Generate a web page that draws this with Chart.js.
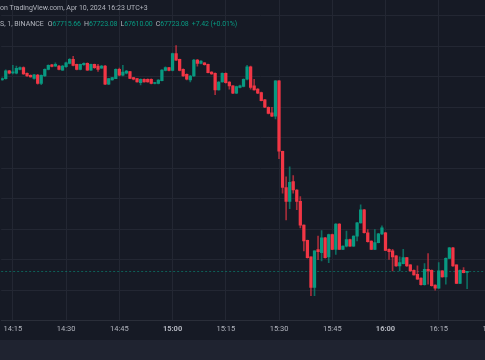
<!DOCTYPE html>
<html><head><meta charset="utf-8">
<script src="https://cdn.jsdelivr.net/npm/chart.js@4.4.1/dist/chart.umd.min.js"></script>
<style>
html,body{margin:0;padding:0;background:#161a25;width:485px;height:360px;overflow:hidden;font-family:Roboto,"Noto Sans",sans-serif;}
#wrap{position:relative;width:485px;height:360px;overflow:hidden;background:#161a25;}
#c{position:absolute;left:0;top:0;}
#band{position:absolute;left:0;top:340px;width:485px;height:20px;background:#1f2330;}
.t{position:absolute;white-space:nowrap;font-size:7px;line-height:9px;color:#b2b5be;}
#ohlc{letter-spacing:-0.12px;}
#ohlc span.seg{margin-right:3.2px;}
.v{color:#089981;}
</style></head>
<body><div id="wrap"><canvas id="c" width="520" height="340"></canvas>
<div id="band"></div>
<div class="t" style="left:0;top:4px;">on TradingView.com, Apr 10, 2024 16:23 UTC+3</div>
<div class="t" id="sym" style="left:0;top:20px;"></div>
<div class="t" id="ohlc" style="left:47.7px;top:20px;"></div>
</div>
<script>
const symbolText = "S, 1, BINANCE";
const times = ["14:12","14:13","14:14","14:15","14:16","14:17","14:18","14:19","14:20","14:21","14:22","14:23","14:24","14:25","14:26","14:27","14:28","14:29","14:30","14:31","14:32","14:33","14:34","14:35","14:36","14:37","14:38","14:39","14:40","14:41","14:42","14:43","14:44","14:45","14:46","14:47","14:48","14:49","14:50","14:51","14:52","14:53","14:54","14:55","14:56","14:57","14:58","14:59",
"15:00","15:01","15:02","15:03","15:04","15:05","15:06","15:07","15:08","15:09","15:10","15:11","15:12","15:13","15:14","15:15","15:16","15:17","15:18","15:19","15:20","15:21","15:22","15:23","15:24","15:25","15:26","15:27","15:28","15:29","15:30","15:31","15:32","15:33","15:34","15:35","15:36","15:37","15:38","15:39","15:40","15:41","15:42","15:43","15:44","15:45","15:46","15:47","15:48","15:49","15:50","15:51","15:52","15:53","15:54","15:55","15:56","15:57","15:58","15:59",
"16:00","16:01","16:02","16:03","16:04","16:05","16:06","16:07","16:08","16:09","16:10","16:11","16:12","16:13","16:14","16:15","16:16","16:17","16:18","16:19","16:20","16:21","16:22","16:23"];
const opens = [68980,68988,69039,69026,69024,69049,69060,69023,69010,68990,69012,68956,69005,69049,69078,69070,69070,69044,69066,69088,69114,69081,69049,69079,69088,69044,69081,69070,69057,69070,68951,68979,68988,69049,69010,69023,69034,68995,68988,68962,68984,68984,68984,68956,68956,68975,69042,69060,
69042,69153,69114,69049,69016,68979,69005,69109,69088,69092,69081,69031,69023,68914,68966,69023,68966,68940,68893,68930,68936,68984,69066,68940,68919,68897,68849,68800,68763,68741,68973,68511,68273,68182,68312,68257,68182,68026,67926,67818,67618,67865,67845,67943,67818,67965,67867,68034,67867,67889,67932,67889,67954,68041,68127,67976,67922,67867,67911,67969,
67976,67867,67857,67824,67759,67774,67813,67765,67730,67704,67678,67635,67737,67730,67633,67613,67726,67687,67808,67878,67765,67644,67730,67715.66];
const highs = [68993,69045,69042,69075,69071,69065,69065,69026,69013,69016,69016,69013,69052,69078,69081,69091,69075,69075,69097,69120,69135,69084,69084,69091,69091,69084,69084,69081,69075,69075,68990,68997,69052,69057,69075,69042,69036,68997,68990,68987,68987,68987,68987,68964,68982,69047,69065,69062,
69156,69205,69117,69052,69019,69010,69114,69114,69107,69094,69084,69034,69026,68969,69026,69026,68969,68943,68939,68945,68987,69075,69070,68984,68922,68899,68852,68802,68800,68975,68975,68513,68344,68409,68351,68260,68214,68028,67928,67819,67858,67954,67990,67946,67967,67967,68037,68037,67891,67987,67935,67956,68044,68160,68130,67997,67924,67997,67972,68021,
67979,67870,67867,67826,67818,67867,67815,67767,67733,67759,67681,67774,67839,67733,67635,67780,67728,67811,67881,67880,67765,67733,67748,67723.08];
const lows = [68977,68984,69019,69019,69019,69045,69016,69003,68997,68984,68951,68948,69003,69045,69065,69068,69045,69042,69062,69084,69071,69045,69045,69075,69042,69042,69055,69036,69055,68948,68948,68977,68987,69006,69006,69019,68987,68980,68964,68947,68964,68964,68953,68953,68953,68973,69039,69039,
69039,69107,69039,69003,68980,68966,69003,69070,69084,69077,69025,69016,68882,68912,68964,68958,68919,68889,68889,68927,68934,68980,68919,68912,68889,68841,68797,68756,68738,68724,68463,68236,68060,68134,68236,68127,68008,67857,67810,67564,67564,67800,67791,67810,67780,67865,67834,67865,67865,67883,67887,67887,67922,68039,67974,67915,67865,67865,67909,67963,
67858,67802,67726,67756,67726,67772,67756,67724,67698,67670,67633,67633,67639,67626,67600,67611,67685,67639,67806,67756,67642,67642,67713,67610.00];
const closes = [68988,69039,69024,69032,69055,69060,69018,69006,68999,69013,68956,69010,69049,69075,69068,69081,69049,69070,69092,69114,69075,69049,69081,69088,69044,69081,69060,69049,69070,68951,68988,68995,69049,69010,69031,69038,68990,68984,68966,68984,68966,68966,68956,68962,68979,69044,69060,69042,
69153,69109,69042,69005,68984,69005,69109,69088,69103,69079,69027,69018,68914,68966,69023,68962,68940,68893,68936,68940,68984,69066,68930,68914,68893,68843,68800,68759,68741,68973,68511,68273,68182,68307,68257,68182,68026,67922,67813,67618,67857,67852,67943,67813,67965,67867,68034,67867,67889,67932,67889,67954,68041,68127,67976,67917,67867,67911,67969,68008,
67860,67852,67818,67759,67780,67813,67759,67726,67700,67672,67635,67737,67726,67629,67613,67726,67687,67808,67878,67759,67644,67730,67715,67723.08];
const tickLabels = ["14:15","14:30","14:45","15:00","15:15","15:30","15:45","16:00","16:15","16:30"];
const changeText = "+7.42 (+0.01%)";

// view window (minutes after 14:00) and price window
const X_MIN = 11.71, X_MAX = 157.9;
const Y_MIN = 67399, Y_MAX = 69504;

const toMin = s => { const p = s.split(':').map(Number); return (p[0]-14)*60 + p[1]; };
const n = closes.length - 1;
const fmt = v => v.toFixed(2);
document.getElementById('sym').textContent = symbolText;
document.getElementById('ohlc').innerHTML =
  '<span class="seg">O<span class="v">' + fmt(opens[n]) + '</span></span>' +
  '<span class="seg">H<span class="v">' + fmt(highs[n]) + '</span></span>' +
  '<span class="seg">L<span class="v">' + fmt(lows[n]) + '</span></span>' +
  '<span class="seg">C<span class="v">' + fmt(closes[n]) + '</span></span>' +
  '<span class="v">' + changeText + '</span>';

const UP = '#089981', DOWN = '#f23645';
const isUp = i => closes[i] >= opens[i];
const wickData = times.map((t,i) => ({x: toMin(t), y: [lows[i], highs[i]]}));
const bodyData = times.map((t,i) => ({x: toMin(t), y: [opens[i], closes[i]]}));

const lastPriceLine = {
  id: 'lastPrice',
  beforeDatasetsDraw(chart) {
    const {ctx, chartArea, scales} = chart;
    const py = Math.round(scales.y.getPixelForValue(closes[n])) + 0.5;
    ctx.save();
    ctx.strokeStyle = 'rgba(8,153,129,0.55)';
    ctx.lineWidth = 1;
    ctx.setLineDash([2, 2]);
    ctx.beginPath();
    ctx.moveTo(chartArea.left, py);
    ctx.lineTo(chartArea.right, py);
    ctx.stroke();
    ctx.restore();
  }
};

new Chart(document.getElementById('c'), {
  type: 'bar',
  data: { datasets: [
    { data: wickData, barThickness: 1, grouped: false, order: 2,
      backgroundColor: c => isUp(c.dataIndex) ? 'rgba(8,153,129,0.65)' : 'rgba(242,54,69,0.65)' },
    { data: bodyData, barThickness: 2.6, grouped: false, order: 1, minBarLength: 1,
      backgroundColor: c => isUp(c.dataIndex) ? UP : DOWN }
  ]},
  options: {
    responsive: false, animation: false, events: [],
    layout: { padding: { left: 0, right: 0, top: 0, bottom: 3.3 } },
    plugins: { legend: { display: false }, tooltip: { enabled: false } },
    scales: {
      x: {
        type: 'linear', min: X_MIN, max: X_MAX, offset: false,
        afterBuildTicks: s => { s.ticks = tickLabels.map(t => ({ value: toMin(t) })); },
        ticks: {
          autoSkip: false, maxRotation: 0, padding: 3.5, color: '#b2b5be',
          font: c => ({ family: 'Roboto', size: 7.5, weight: (c.tick && c.tick.value % 60 === 0) ? 'bold' : 'normal' }),
          callback: v => { const t = tickLabels.find(s => toMin(s) === v); return t || ''; }
        },
        grid: { color: '#232733', drawTicks: false, offset: false },
        border: { display: true, color: '#2a2e39' }
      },
      y: {
        type: 'linear', min: Y_MIN, max: Y_MAX, position: 'right',
        ticks: { display: false, stepSize: 200, includeBounds: false },
        grid: { color: '#232733', drawTicks: false },
        border: { display: false }
      }
    }
  },
  plugins: [lastPriceLine]
});
</script>
</body></html>
